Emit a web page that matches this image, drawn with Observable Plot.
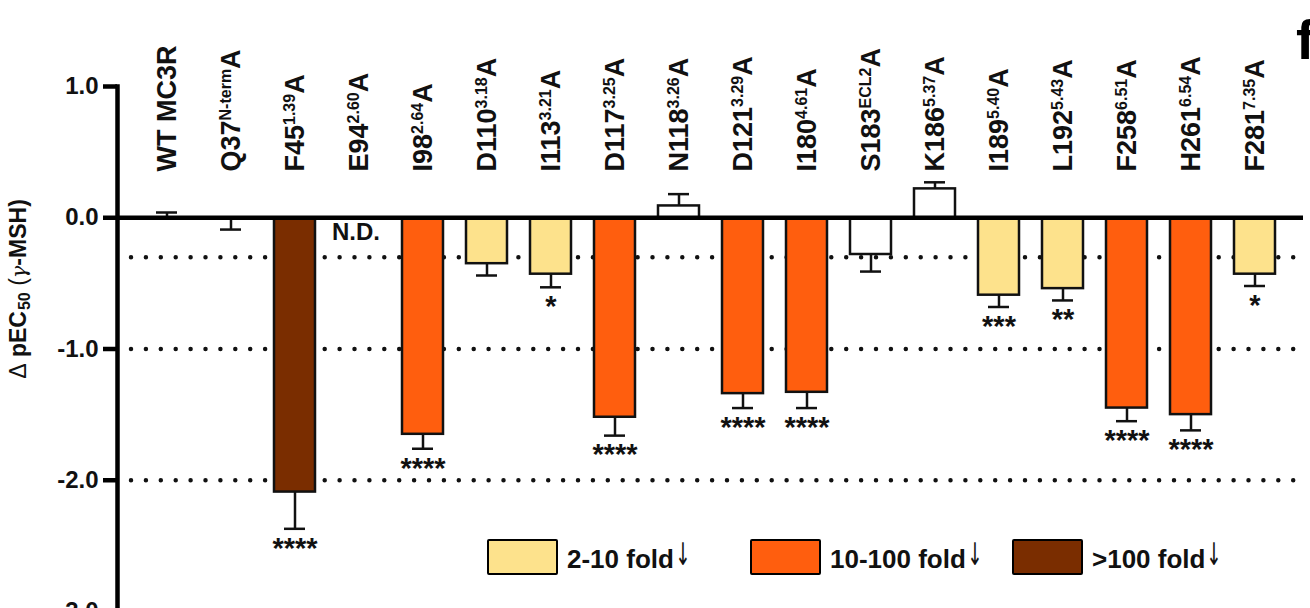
<!DOCTYPE html>
<html>
<head>
<meta charset="utf-8">
<script src="https://cdn.jsdelivr.net/npm/d3@7"></script>
<script src="https://cdn.jsdelivr.net/npm/@observablehq/plot@0.6"></script>
<style>
  html, body { margin: 0; padding: 0; background: #fff; overflow: hidden; }
  #wrap { position: relative; width: 1310px; height: 608px; font-family: "Liberation Sans", Arial, sans-serif; }
  #wrap svg { position: absolute; left: 0; top: 0; overflow: visible; }
  .ylab { position: absolute; left: 19px; top: 289px; transform: translate(-50%, -50%) rotate(-90deg);
          white-space: nowrap; font-weight: bold; font-size: 23px; color: #111; }
  .ylab .n { font-weight: normal; }
  .ylab .g { font-weight: normal; font-style: italic; font-family: "DejaVu Serif", serif; font-size: 21px; }
  .ylab sub { font-size: 16px; vertical-align: -4px; margin-left: 1px; }
  .panel { position: absolute; left: 1296px; top: 7px; font-weight: bold; font-size: 56px; color: #000; }
  .leg { position: absolute; top: 539px; display: flex; align-items: center; white-space: nowrap; }
  .leg .sw { width: 67px; height: 32px; border: 2.5px solid #000; border-radius: 2px; }
  .leg .tx { margin-left: 9px; font-weight: bold; font-size: 26px; color: #111; }
  .leg .ar { font-weight: normal; font-size: 31px; margin-left: -4px; position: relative; top: -3px;
             font-family: "DejaVu Sans", sans-serif; color: #111; display: inline-block; transform: scaleX(0.6); }
</style>
</head>
<body>
<div id="wrap"></div>
<script>
// ---- data ----
const names  = ["WT MC3R","Q37","F45","E94","I98","D110","I113","D117","N118","D121","I180","S183","K186","I189","L192","F258","H261","F281"];
const sups   = ["","N-term","1.39","2.60","2.64","3.18","3.21","3.25","3.26","3.29","4.61","ECL2","5.37","5.40","5.43","6.51","6.54","7.35"];
const values = [0.00,-0.01,-2.09,null,-1.65,-0.35,-0.43,-1.52,0.09,-1.34,-1.33,-0.28,0.22,-0.59,-0.54,-1.45,-1.50,-0.43];
const sems   = [0.04,0.08,0.28,null,0.11,0.09,0.10,0.14,0.09,0.11,0.12,0.13,0.05,0.09,0.09,0.10,0.12,0.09];
const groups = ["ns","ns",">100","nd","10-100","2-10","2-10","10-100","ns","10-100","10-100","ns","ns","2-10","2-10","10-100","10-100","2-10"];
const sigs   = ["","","****","","****","","*","****","","****","****","","","***","**","****","****","*"];
const ndLabel = "N.D.";
const yTicks = [1, 0, -1, -2, -3];
const foldLines = [-Math.log10(2), -1, -2];
const groupDomain = ["ns","2-10","10-100",">100"];
const groupColors = ["#ffffff","#FDE28C","#FF5E0E","#7A2D00"];
const legendItems = [
  {label: "2-10 fold", color: "#FDE28C", left: 487},
  {label: "10-100 fold", color: "#FF5E0E", left: 750},
  {label: ">100 fold", color: "#7A2D00", left: 1012}
];

const data = names.map((name, i) => ({
  name,
  label: name === "WT MC3R" ? name : name + sups[i] + "A",
  base: name,
  sup: sups[i],
  suffix: name === "WT MC3R" ? "" : "A",
  value: values[i],
  errEnd: values[i] == null ? null : values[i] + (values[i] >= 0 ? sems[i] : -sems[i]),
  group: groups[i],
  sig: sigs[i]
}));
const measured = data.filter(d => d.value != null);
const starred = data.filter(d => d.sig);
const nd = data.filter(d => d.group === "nd");

const font = '"Liberation Sans", Arial, sans-serif';

const svg = Plot.plot({
  width: 1310,
  height: 608,
  marginTop: 86,
  marginBottom: -3,
  marginLeft: 117,
  marginRight: 7,
  style: {fontFamily: font, color: "#111", background: "transparent"},
  x: {domain: names, range: [128, 1292], paddingInner: 0.36, paddingOuter: 0.18, axis: null},
  y: {domain: [-3, 1], axis: null},
  color: {domain: groupDomain, range: groupColors},
  marks: [
    Plot.ruleY(foldLines, {stroke: "#111", strokeWidth: 4.5, strokeDasharray: "0 14.9", strokeLinecap: "round", insetLeft: 14, insetRight: 8}),
    Plot.ruleX(measured, {x: "name", y1: "value", y2: "errEnd", stroke: "#111", strokeWidth: 2.5}),
    Plot.tickY(measured, {x: "name", y: "errEnd", stroke: "#111", strokeWidth: 2.5, insetLeft: 10, insetRight: 10}),
    Plot.barY(measured, {x: "name", y: "value", fill: "group", stroke: "#111", strokeWidth: 2.5}),
    Plot.ruleY([0], {stroke: "#000", strokeWidth: 4.5}),
    Plot.text(starred, {x: "name", y: "errEnd", text: "sig", dy: 19.5, fontSize: 29, fontWeight: "bold", fill: "#111"}),
    Plot.text(nd, {x: "name", y: () => 0, text: () => ndLabel, dx: -3, dy: 15, fontSize: 24, fontWeight: "bold", fill: "#111"}),
    Plot.text(data, {x: "name", text: "label", frameAnchor: "top", dy: 85, rotate: -90, textAnchor: "start", lineAnchor: "middle", fontSize: 27, fontWeight: "bold", fill: "#111", className: "catlab"}),
    Plot.axisY({ticks: yTicks, tickSize: 14, tickPadding: 5, strokeWidth: 4.5, stroke: "#000", tickFormat: d => d.toFixed(1), fontSize: 24, fontWeight: "bold", label: null}),
    Plot.frame({anchor: "left", stroke: "#000", strokeWidth: 4.5})
  ]
});

// superscripts in category labels
const texts = svg.querySelectorAll("g.catlab text");
texts.forEach((t, i) => {
  const d = data[i];
  while (t.firstChild) t.removeChild(t.firstChild);
  const ns = "http://www.w3.org/2000/svg";
  const a = document.createElementNS(ns, "tspan"); a.textContent = d.base; t.appendChild(a);
  if (d.sup) {
    const s = document.createElementNS(ns, "tspan");
    s.textContent = d.sup; s.setAttribute("font-size", "16"); s.setAttribute("dy", "-9");
    t.appendChild(s);
    const b = document.createElementNS(ns, "tspan");
    b.textContent = d.suffix; b.setAttribute("dy", "9");
    t.appendChild(b);
  }
});

const wrap = document.getElementById("wrap");
wrap.appendChild(svg);

const yl = document.createElement("div");
yl.className = "ylab";
yl.innerHTML = '<span class="n">Δ</span> pEC<sub>50</sub> <span class="n">(</span><span class="g">γ</span>-MSH)';
wrap.appendChild(yl);

const pf = document.createElement("div");
pf.className = "panel"; pf.textContent = "f";
wrap.appendChild(pf);

legendItems.forEach(it => {
  const el = document.createElement("div");
  el.className = "leg";
  el.style.left = it.left + "px";
  el.innerHTML = `<div class="sw" style="background:${it.color}"></div><span class="tx">${it.label}<span class="ar">↓</span></span>`;
  wrap.appendChild(el);
});
</script>
</body>
</html>
